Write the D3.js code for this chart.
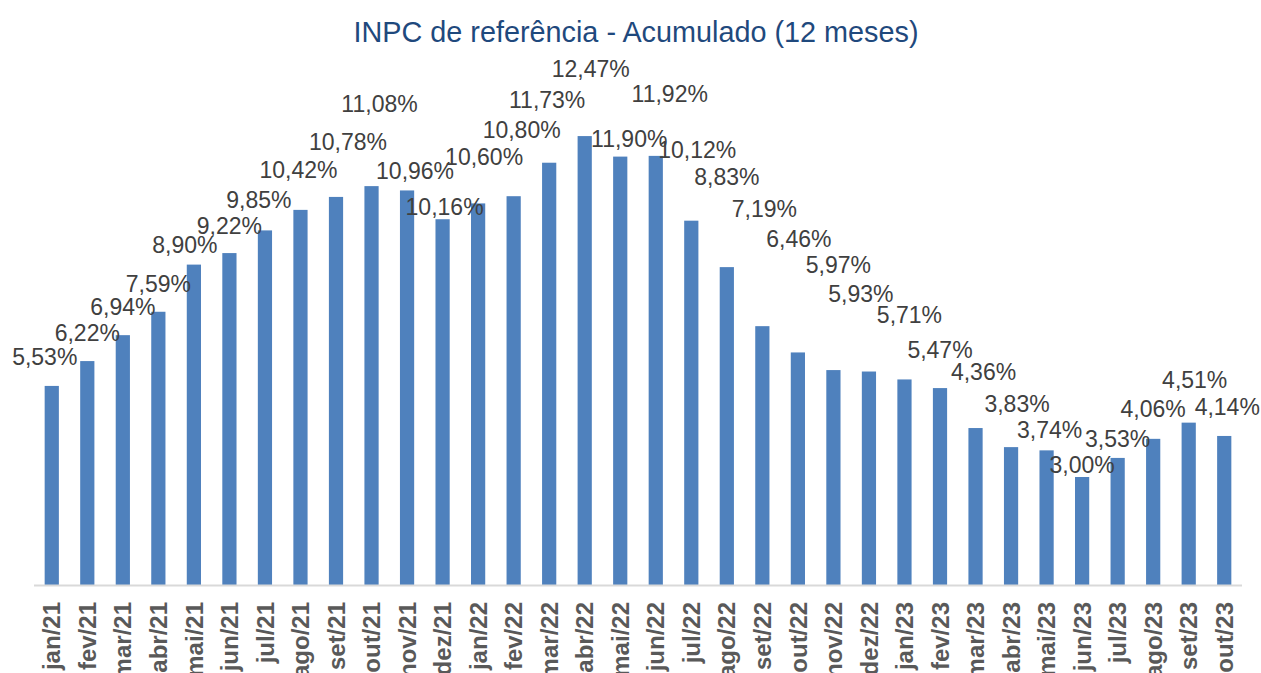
<!DOCTYPE html>
<html>
<head>
<meta charset="utf-8">
<script src="https://cdn.jsdelivr.net/npm/d3@7"></script>
<style>
    body { margin: 0; background: #ffffff; }
    text { font-family: "Liberation Sans", Arial, sans-serif; }
</style>
</head>
<body>
<script>
//Chart data
var months = ["jan/21", "fev/21", "mar/21", "abr/21", "mai/21", "jun/21",
    "jul/21", "ago/21", "set/21", "out/21", "nov/21", "dez/21",
    "jan/22", "fev/22", "mar/22", "abr/22", "mai/22", "jun/22",
    "jul/22", "ago/22", "set/22", "out/22", "nov/22", "dez/22",
    "jan/23", "fev/23", "mar/23", "abr/23", "mai/23", "jun/23",
    "jul/23", "ago/23", "set/23", "out/23"];

var inpc = [5.53, 6.22, 6.94, 7.59, 8.90, 9.22, 9.85, 10.42, 10.78, 11.08,
    10.96, 10.16, 10.60, 10.80, 11.73, 12.47, 11.90, 11.92, 10.12, 8.83,
    7.19, 6.46, 5.97, 5.93, 5.71, 5.47, 4.36, 3.83, 3.74, 3.00, 3.53,
    4.06, 4.51, 4.14];

//Where the (hand-moved) data labels sit, relative to each bar top [dx, dy]
var labelShift = [[-7, -21], [0, -20], [0, -20], [0, -20], [-9, -12],
    [0, -19], [-6, -22], [-2, -32], [12, -47], [8, -74], [8, -11],
    [2, -4], [6, -38], [8, -58], [-2, -55], [6, -59], [9, -10],
    [14, -54], [6, -63], [0, -82], [2, -109], [1, -105], [5, -97],
    [-8, -70], [5, -56], [0, -30], [8, -48], [6, -35], [3, -12],
    [0, -4], [0, -11], [0, -22], [6, -35], [3, -21]];

var title = "INPC de referência - Acumulado (12 meses)";

//Define size
var width = 1261,
    height = 673;

var svg = d3.select("body")
    .append("svg")
    .attr("width", width)
    .attr("height", height);

//Scales
var x = d3.scaleBand()
    .domain(months)
    .range([34, 1242])
    .paddingInner(0.6)
    .paddingOuter(0.3);

var y = d3.scaleLinear()
    .domain([0, 14])
    .range([585, 81]);

//Title
svg.append("text")
    .attr("x", 636)
    .attr("y", 42)
    .attr("text-anchor", "middle")
    .style("font-size", "28.8px")
    .style("fill", "#1f497d")
    .text(title);

//Bars
svg.append("g")
    .selectAll("rect")
    .data(inpc)
    .enter().append("rect")
    .attr("x", function(d, i) { return x(months[i]); })
    .attr("y", function(d) { return y(d); })
    .attr("width", x.bandwidth())
    .attr("height", function(d) { return y(0) - y(d); })
    .style("fill", "#4f81bd");

//Category axis
var xAxis = d3.axisBottom(x)
    .tickSize(0)
    .tickPadding(0);

var gx = svg.append("g")
    .attr("transform", "translate(0," + y(0) + ")")
    .call(xAxis);

gx.select(".domain")
    .attr("d", "M34,0.5H1242")
    .style("stroke", "#d9d9d9")
    .style("stroke-width", 2);

gx.selectAll(".tick text")
    .attr("transform", "rotate(-90)")
    .attr("x", -17)
    .attr("y", 0)
    .attr("dy", "0.36em")
    .attr("text-anchor", "end")
    .style("font-family", "'Liberation Sans', Arial, sans-serif")
    .style("font-size", "24px")
    .style("font-weight", "bold")
    .style("fill", "#595959");

//Data labels
var fmt = function(d) { return d.toFixed(2).replace(".", ",") + "%"; };

svg.append("g")
    .selectAll("text")
    .data(inpc)
    .enter().append("text")
    .attr("x", function(d, i) {
        return x(months[i]) + x.bandwidth() / 2 + labelShift[i][0];
    })
    .attr("y", function(d, i) { return y(d) + labelShift[i][1]; })
    .attr("text-anchor", "middle")
    .style("font-size", "23px")
    .style("fill", "#404040")
    .text(fmt);
</script>
</body>
</html>
